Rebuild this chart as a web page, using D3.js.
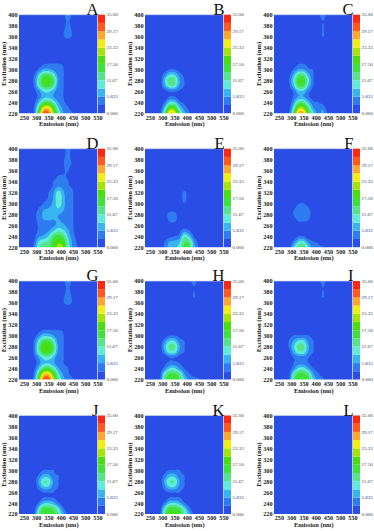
<!DOCTYPE html>
<html><head><meta charset="utf-8">
<script src="https://cdn.jsdelivr.net/npm/d3@7"></script>
<style>html,body{margin:0;padding:0;background:#fff}svg{display:block}
text{font-family:"Liberation Serif","Times New Roman",serif}</style></head>
<body><svg id="c" width="374" height="531"></svg>
<script>
// Emission columns run 230,250,...,550 nm; excitation rows run 220,230,...,400 nm (first row = 220).
// Omitted rows and omitted trailing values are read as 0.
const emission = d3.range(230, 551, 20);
const excitation = d3.range(220, 401, 10);
const emTicks = [250,300,350,400,450,500,550];
const exTicks = [220,240,260,280,300,320,340,360,380,400];
const legendTicks = [[0,"0.000"],[5.833,"5.833"],[11.67,"11.67"],[17.5,"17.50"],[23.33,"23.33"],[29.17,"29.17"],[35,"35.00"]];
const bandColors = ["#2a4ee6","#2f7cf0","#38b4f0","#5cecd8","#55e48c","#3ee23a","#4ade10","#a6e408","#f2ee10","#ffa62e","#ff5a1e","#fa2a10"];
const panelNames = ["A","B","C","D","E","F","G","H","I","J","K","L"];
const colLefts = [19,145,274];
const rowTops = [14.7,148.7,281,415.5];

const panelA = [
 [0,0,.5,3,17,30,30,22,12,6,4,2.8,.5],
 [0,0,0,2.5,13,24,25,18,9,5,3.2,1.5],
 [0,0,0,1.5,7.5,14,15,11,6,3.5,2,.5],
 [0,0,0,.8,4,7.5,8,6,3.5,3,1.5],
 [0,0,0,1.5,5,9,9.5,7,3.3,3,1.5],
 [0,0,0,3,10,15.5,16,13,4.5,3.1,1.5],
 [0,0,0,3.3,11,17.5,18,15,6,3.1,1.5],
 [0,0,0,2.5,8.5,14,14.5,11,4.5,3.1,1.5],
 [0,0,0,.5,3.5,6.5,6.5,5,3.2,3.05,1],
 [0,0,0,0,.5,2.6,3.1,3.1,3.05,2.5,.5],
 [],[],[],
 [0,0,0,0,0,0,0,0,0,.5,1.5,.5],
 [0,0,0,0,0,0,0,0,0,2.6,3.6,2.4],
 [0,0,0,0,0,0,0,0,0,2.6,3.6,2.4],
 [0,0,0,0,0,0,0,0,0,2,3.5,1.8],
 [0,0,0,0,0,0,0,0,0,1.5,3.5,1],
 [0,0,0,0,0,0,0,0,0,1,6.5,1]];
const panelB = [
 [0,0,0,1.5,13,26,25,14,7,3.2,1.5],
 [0,0,0,.5,8,18,18,9,4.5,2,.5],
 [0,0,0,0,3.2,9,9,4,2,.5],
 [0,0,0,0,.5,3.1,3.1,1.5,.5],
 [0,0,0,0,1.5,3.3,3.3,2.5,1],
 [0,0,0,.5,6.5,11,11,5.5,2.9,.5],
 [0,0,0,.8,8,13.5,13,6.5,3,.5],
 [0,0,0,.3,5,9,9,4.5,2,.3],
 [0,0,0,0,1,3,3,1.5,.5]];
const panelC = [
 [0,0,0,2,14,27,27,17,9,5,6.5,2],
 [0,0,0,1,10,21,21,13,6,4,5,.5],
 [0,0,0,.5,6,13,13,7.5,3.5,3,1.5],
 [0,0,0,.3,3.3,6,6,3.5,1.5,.5],
 [0,0,0,.8,3.5,8,8,4,1.5],
 [0,0,0,2,8,15,15,8,3,.5],
 [0,0,0,2.5,9.5,17,17,10,3.2,.5],
 [0,0,0,1.5,7,13,13,7.5,3.1,.5],
 [0,0,0,.3,3.2,6,6,3.5,2.8],
 [0,0,0,0,.5,2.9,3,2,.5],
 [],[],[],[],
 [0,0,0,0,0,0,0,0,0,.5,3.1],
 [0,0,0,0,0,0,0,0,0,.5,3.1],
 [0,0,0,0,0,0,0,0,0,.5,3.1],
 [0,0,0,0,0,0,0,0,0,.5,3.1],
 [0,0,0,0,0,0,0,0,0,.5,6]];
const panelD = [
 [0,0,.5,3.5,11,14,14,17,22,20,11,5,2.5],
 [0,0,0,2.5,9,11,12,16,19,18,10,5,2.2],
 [0,0,0,1.5,5,6.5,9,14,16,14,8,4,1.5],
 [0,0,0,1,3.5,4,5.5,8.5,11,9.5,6.5,3.3,1],
 [0,0,0,1,3.2,3.5,3.8,5,7,6.5,4.5,3.1,.8],
 [0,0,0,1.5,4,5.8,6,5.8,6,5,3.5,3,.6],
 [0,0,0,2,4,6.5,7,6.5,6,5,3.4,3,.5],
 [0,0,0,.8,3.2,5.5,6,7,8.5,6.5,3.4,3,.5],
 [0,0,0,0,1,3.2,4.5,6.5,10.5,7.5,3.5,3,.5],
 [0,0,0,0,.3,1.5,3.2,6,11,7.5,3.4,3,.5],
 [0,0,0,0,0,.5,2.9,5.5,10,6.5,3.3,3,.3],
 [0,0,0,0,0,0,1,3.5,6,5,3.2,2.5],
 [0,0,0,0,0,0,.3,3,3.4,3.3,3,1],
 [0,0,0,0,0,0,0,1.5,3.1,3.1,2.5,.3],
 [0,0,0,0,0,0,0,0,.5,2.5,3,.3],
 [0,0,0,0,0,0,0,0,0,2.6,3.5,2.2],
 [0,0,0,0,0,0,0,0,0,2.6,3.5,2.2],
 [0,0,0,0,0,0,0,0,0,2,3.5,1.5],
 [0,0,0,0,0,0,0,0,0,1,4.5,1]];
const panelE = [
 [0,0,0,.5,3.5,7,8,10,15,15,7,2.5],
 [0,0,0,0,2.9,6,6.5,8,14,13.5,6,1.5],
 [0,0,0,0,.5,2,2.9,4,11,8,2.5],
 [0,0,0,0,0,.5,1,2,5,3.2,.5],
 [0,0,0,0,0,1.5,1.8,1,1,.5],
 [0,0,0,0,.8,3.6,3.6,1.8,.5],
 [0,0,0,0,1.2,4,3.8,1.5,.3],
 [0,0,0,0,0,1.5,1.5,.8,.5],
 [0,0,0,0,0,0,.3,.8,2.8,.8],
 [0,0,0,0,0,0,0,.5,3.9,.8],
 [0,0,0,0,0,0,0,.5,3.6,.8],
 [0,0,0,0,0,0,0,0,.5]];
const panelF = [
 [0,0,0,.5,8,13,14,9,3.5,3.2,3,2,1.5,.8],
 [0,0,0,0,4,9,9.5,5,3.1,2.5,1],
 [0,0,0,0,.5,2.9,3,1,.3],
 [],
 [0,0,0,0,0,.8,1,.3],
 [0,0,0,0,1.5,3.6,3.8,3,.5],
 [0,0,0,0,3.2,4.2,5.5,4,1.5],
 [0,0,0,0,2.5,4,4.2,3.5,.8],
 [0,0,0,0,.8,2.7,3,1.5]];
const panelG = [
 [0,0,1,4,18,30,31,23,13,7,4,3.1,.8],
 [0,0,0,3,14,25,26,19,10,5.5,3.3,2],
 [0,0,0,2,8,15,16,12,6.5,3.8,3,.8],
 [0,0,0,1,4.5,8,8.5,6.5,3.5,3,2],
 [0,0,0,2,6,10,10.5,8,3.4,3.05,1.5],
 [0,0,0,3.1,11,17,17.5,13,5,3.1,1.5],
 [0,0,0,3.3,12,18.5,19,15,5.5,3.1,1.5],
 [0,0,0,3,9.5,15,15.5,11.5,4.5,3.1,1.5],
 [0,0,0,1,5,8,8,6,3.4,3.05,1],
 [0,0,0,0,1.5,3.1,3.2,3.2,3.05,2.5,.5],
 [],[],[],
 [0,0,0,0,0,0,0,0,0,.5,1.5,.5],
 [0,0,0,0,0,0,0,0,0,2.6,3.6,2.4],
 [0,0,0,0,0,0,0,0,0,2.6,3.6,2.4],
 [0,0,0,0,0,0,0,0,0,2,3.5,1.8],
 [0,0,0,0,0,0,0,0,0,1.5,3.5,1],
 [0,0,0,0,0,0,0,0,0,1,6.5,1]];
const panelH = [
 [0,0,0,2,13,16,16,14.5,9,4.5,3.5,3.2,1.5,3.05,1,3.05],
 [0,0,0,1.5,11,15,15,13,6,3.1,2,1],
 [0,0,0,.5,4.5,9,9.5,6,3.1,1],
 [0,0,0,0,2,4,4,2.9,1],
 [0,0,0,0,.5,3.05,3.05,1.5],
 [0,0,0,.5,5.5,10,10,5,2.9,.5],
 [0,0,0,1,7.5,12.5,12.5,6.5,3.1,.5],
 [0,0,0,.5,5,9,9,4.5,3,.5],
 [0,0,0,0,1,3.1,3.1,2,1],
 [],[],[],[],[],[],
 [0,0,0,0,0,0,0,0,0,.5,3],
 [0,0,0,0,0,0,0,0,0,.5,3],
 [0,0,0,0,0,0,0,0,0,.5,2.9],
 [0,0,0,0,0,0,0,0,0,.5,5]];
const panelI = [
 [0,0,0,2,13,17,17,15,9,4,3.2,1],
 [0,0,0,1.5,11,15.5,15.5,13,6,3.2,2],
 [0,0,0,.5,5,9.5,10,6.5,3.1,1.5],
 [0,0,0,0,2.9,4.5,4.5,3.1,1],
 [0,0,0,0,3,4,4,3.1,.5],
 [0,0,0,1.5,6.5,10.5,10.5,5.5,3,.5],
 [0,0,0,3,8.5,12.5,12.5,6.5,3.1,.5],
 [0,0,0,3,6,9.5,9.5,5,3.1,.5],
 [0,0,0,1.5,3.1,3.3,3.3,3.1,1.5],
 [0,0,0,0,.5,1,1,.5],
 [],[],[],[],[],
 [0,0,0,0,0,0,0,0,0,.5,3.05],
 [0,0,0,0,0,0,0,0,0,.5,3.05],
 [0,0,0,0,0,0,0,0,0,.5,3.05],
 [0,0,0,0,0,0,0,0,0,.5,5]];
const panelJ = [
 [0,0,0,2,12,17,17,16,12,7,2,.3],
 [0,0,0,.8,9,15.5,15.5,14,9.5,3.5,.5],
 [0,0,0,0,3.5,8,8.5,7,3.5,1],
 [0,0,0,0,.5,2.9,3,2.8,1.5,.3],
 [0,0,0,0,1.5,3.1,3.1,3,1.5],
 [0,0,0,.3,4.5,8.5,8.5,4.5,3,.5],
 [0,0,0,.5,6,11.5,11,5.5,3.05,.5],
 [0,0,0,.3,3.5,7,7,3.5,3,.5],
 [0,0,0,0,1,3,3.05,3,1],
 [0,0,0,0,0,.3,.3,.3]];
const panelK = [
 [0,0,0,2,13,18,18,16.5,12,7,2,.3],
 [0,0,0,1,10,16,16,14.5,9.5,4,.5],
 [0,0,0,.2,4,8.5,9,7,3.5,1],
 [0,0,0,0,.5,3,3.05,3,1.5,.3],
 [0,0,0,0,2,3.1,3.1,3,1.5],
 [0,0,0,.5,5,9,9,5,3,.5],
 [0,0,0,.8,6.5,11.5,11.5,6,3.05,.5],
 [0,0,0,.5,4,7.5,7.5,4,3,.5],
 [0,0,0,0,1.5,3.05,3.1,3,1]];
const panelL = [
 [0,0,0,0,1,2.95,3,3,2.95,2.8,1]];
const panels = [panelA,panelB,panelC,panelD,panelE,panelF,panelG,panelH,panelI,panelJ,panelK,panelL];

const plotW = 78.5, plotH = 98.5, barW = 7;
const SUBX = 8, SUBY = 5;
const thresholds = d3.range(1,12).map(i => i*35/12);
const svg = d3.select("#c");
const defs = svg.append("defs");
defs.append("filter").attr("id","soft").attr("x",-.05).attr("y",-.05).attr("width",1.1).attr("height",1.1)
  .append("feGaussianBlur").attr("stdDeviation",.45);

function cr(p0,p1,p2,p3,t){
  return .5*(2*p1+(p2-p0)*t+(2*p0-5*p1+4*p2-p3)*t*t+(3*p1-p0-3*p2+p3)*t*t*t);
}
// Fine rendering lattice for the contour tracer, padded by one cell on all sides.
function upsample(rows){
  const nx=emission.length, ny=excitation.length;
  const v=(j,i)=>{const r=rows[Math.max(0,Math.min(ny-1,j))]||[]; return r[Math.max(0,Math.min(nx-1,i))]||0;};
  const w=(nx-1)*SUBX+1, h=(ny-1)*SUBY+1;
  const raw=new Float64Array(w*h);
  for(let y=0;y<h;y++){
    const j=Math.floor(y/SUBY), ty=y/SUBY-j;
    for(let x=0;x<w;x++){
      const i=Math.floor(x/SUBX), tx=x/SUBX-i;
      const col=[-1,0,1,2].map(d=>cr(v(j+d,i-1),v(j+d,i),v(j+d,i+1),v(j+d,i+2),tx));
      raw[y*w+x]=Math.max(0,cr(col[0],col[1],col[2],col[3],ty));
    }
  }
  const W=w+2,H=h+2,out=new Float64Array(W*H);
  for(let y=0;y<H;y++)for(let x=0;x<W;x++){
    const yy=Math.max(0,Math.min(h-1,y-1)),xx=Math.max(0,Math.min(w-1,x-1));
    out[y*W+x]=raw[yy*w+xx];
  }
  return {W,H,out};
}

panels.forEach((rows,idx)=>{
  const left=colLefts[idx%3], top=rowTops[Math.floor(idx/3)];
  const x=d3.scaleLinear().domain([230,550]).range([0,plotW]);
  const y=d3.scaleLinear().domain([220,400]).range([plotH,0]);
  const color=d3.scaleQuantize().domain([0,35]).range(bandColors);
  const g=svg.append("g").attr("transform",`translate(${left},${top})`);
  const clipId="clip"+idx;
  defs.append("clipPath").attr("id",clipId).append("rect").attr("width",plotW).attr("height",plotH);

  const {W,H,out}=upsample(rows);
  const contours=d3.contours().size([W,H]).thresholds(thresholds)(Array.from(out));
  const proj=d3.geoTransform({point(px,py){
    const em=230+(px-1.5)/SUBX*20, ex=220+(py-1.5)/SUBY*10;
    this.stream.point(x(em),y(ex));
  }});
  const path=d3.geoPath(proj);
  const plot=g.append("g").attr("clip-path",`url(#${clipId})`).append("g").attr("filter","url(#soft)");
  plot.append("rect").attr("x",-3).attr("y",-3).attr("width",plotW+6).attr("height",plotH+6).attr("fill",bandColors[0]);
  plot.selectAll("path").data(contours).join("path")
    .attr("d",path).attr("fill",d=>color(d.value+.01));

  g.append("line").attr("x1",0).attr("x2",plotW).attr("y1",0).attr("y2",0).attr("stroke","#c9d6ee").attr("stroke-width",.7);
  g.append("line").attr("x1",plotW).attr("x2",plotW).attr("y1",0).attr("y2",plotH).attr("stroke","#c9d6ee").attr("stroke-width",.7);

  const ax=g.append("g").attr("transform",`translate(0,${plotH})`)
    .call(d3.axisBottom(x).tickValues(emTicks).tickSize(0).tickPadding(2));
  const ay=g.append("g").call(d3.axisLeft(y).tickValues(exTicks).tickSize(0).tickPadding(1.5));
  [ax,ay].forEach(a=>{a.select(".domain").remove();
    a.selectAll("text").attr("font-family","Liberation Serif").attr("font-size",6.2).attr("font-weight","bold").attr("fill","#222");});

  g.append("text").attr("x",plotW/2+.5).attr("y",plotH+13).attr("text-anchor","middle")
    .attr("font-size",6.4).attr("font-weight","bold").attr("fill","#222").text("Emission (nm)");
  g.append("text").attr("transform",`translate(-13,${plotH/2}) rotate(-90)`).attr("text-anchor","middle")
    .attr("font-size",6.6).attr("font-weight","bold").attr("fill","#222").text("Excitation (nm)");
  g.append("text").attr("x",plotW+1).attr("y",.3).attr("text-anchor","end")
    .attr("font-size",16.5).attr("fill","#111").text(panelNames[idx]);

  const yBar=d3.scaleLinear().domain([0,35]).range([plotH,0]);
  const bar=g.append("g").attr("transform",`translate(${plotW+.5},0)`);
  bar.selectAll("rect").data(bandColors).join("rect")
    .attr("x",0).attr("width",barW)
    .attr("y",(d,i)=>yBar((i+1)*35/12)).attr("height",(d,i)=>yBar(i*35/12)-yBar((i+1)*35/12))
    .attr("fill",d=>d);
  g.append("g").selectAll("text").data(legendTicks).join("text")
    .attr("x",plotW+9).attr("y",d=>yBar(d[0])+1.6)
    .attr("font-size",5).attr("fill",d=>(d[1]==="5.833"||d[1]==="29.17")?"#334488":"#444").text(d=>d[1]);
});
</script></body></html>
